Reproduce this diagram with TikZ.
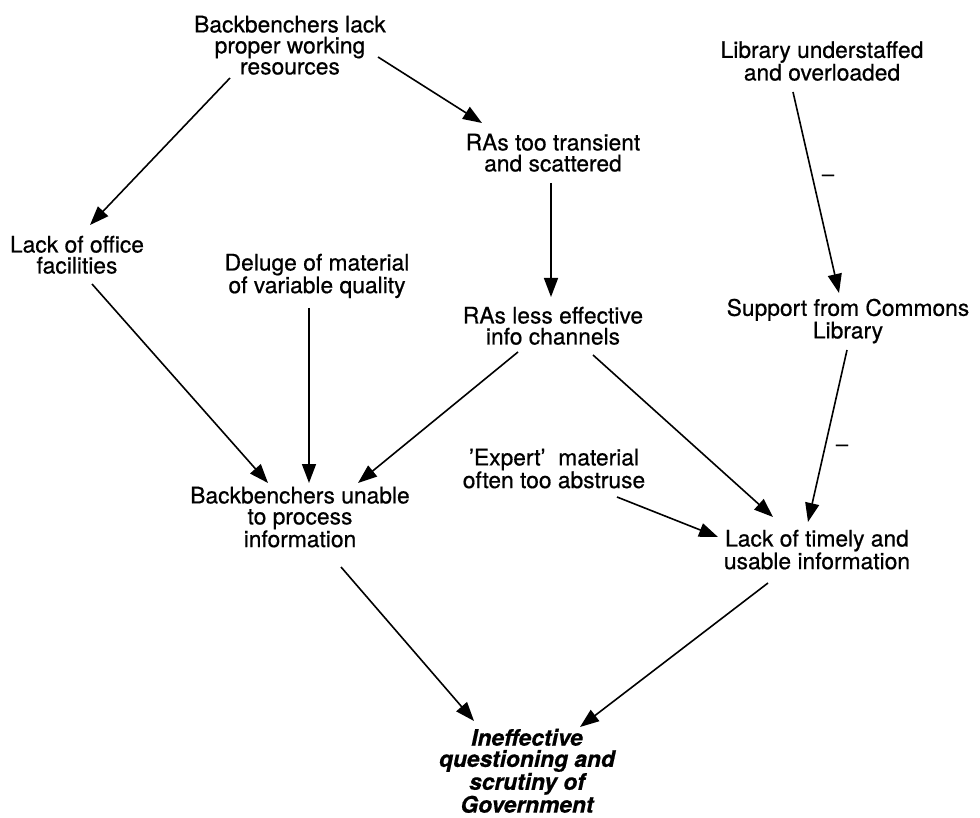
\documentclass[tikz,border=0pt]{standalone}
\usepackage{fontspec}
\setmainfont[FakeBold=0.6]{TeX Gyre Heros}
\usetikzlibrary{arrows.meta}
\begin{document}
\begin{tikzpicture}[x={(1pt,0)},y={(0,-1pt)},
  lbl/.style={anchor=north,inner sep=0pt,align=center,font=\fontsize{22.8}{21}\selectfont},
  goal/.style={lbl,font=\fontsize{22.8}{21.2}\selectfont\bfseries\itshape},
  sign/.style={inner sep=0pt,font=\fontsize{22}{22}\selectfont},
  link/.style={line width=1.6pt,-{Triangle[length=19pt,width=14pt]}}]
\useasboundingbox (0,0) rectangle (980,818);
\node[lbl] (A) at (290,15.6) {Backbenchers lack\\proper working\\resources};
\node[lbl] (B) at (553,133.6) {RAs too transient\\and scattered};
\node[lbl] (C) at (822,41) {Library understaffed\\and overloaded};
\node[lbl] (D) at (77,235.6) {Lack of office\\facilities};
\node[lbl] (E) at (317,253.6) {Deluge of material\\of variable quality};
\node[lbl] (F) at (553,306.6) {RAs less effective\\info channels};
\node[lbl] (G) at (848,298.6) {Support from Commons\\Library};
\node[lbl] (H) at (300,486.6) {Backbenchers unable\\to process\\information};
\node[lbl] (I) at (554,448.6) {'Expert'\ \ material\\often too abstruse};
\node[lbl] (J) at (817,529.6) {Lack of timely and\\usable information};
\node[goal] (K) at (527,728.6) {Ineffective\\questioning and\\scrutiny of\\Government};
\node[sign] (s1) at (828,178) {–};
\node[sign] (s2) at (842,448) {–};
\draw[link] ([shift={(-60,62.4)}]A.north) -- ([shift={(13,-10.6)}]D.north);
\draw[link] ([shift={(88,41.4)}]A.north) -- ([shift={(-71,-10.6)}]B.north);
\draw[link] ([shift={(-2,49.4)}]B.north) -- ([shift={(-2,-9.6)}]F.north);
\draw[link] ([shift={(-29,51)}]C.north) -- ([shift={(-9,-5.6)}]G.north);
\draw[link] ([shift={(15,48.4)}]D.north) -- ([shift={(-32,-3.6)}]H.north);
\draw[link] ([shift={(-8,54.4)}]E.north) -- ([shift={(9,-3.6)}]H.north);
\draw[link] ([shift={(-35,45.4)}]F.north) -- ([shift={(58,-3.6)}]H.north);
\draw[link] ([shift={(40,48.4)}]F.north) -- ([shift={(-44,-12.6)}]J.north);
\draw[link] ([shift={(63,48.4)}]I.north) -- ([shift={(-99,7.4)}]J.north);
\draw[link] ([shift={(-1,51.4)}]G.north) -- ([shift={(-9,-7.6)}]J.north);
\draw[link] ([shift={(41,80.4)}]H.north) -- ([shift={(-53,-7.6)}]K.north);
\draw[link] ([shift={(-49,53.4)}]J.north) -- ([shift={(53,-1.6)}]K.north);
\end{tikzpicture}
\end{document}
